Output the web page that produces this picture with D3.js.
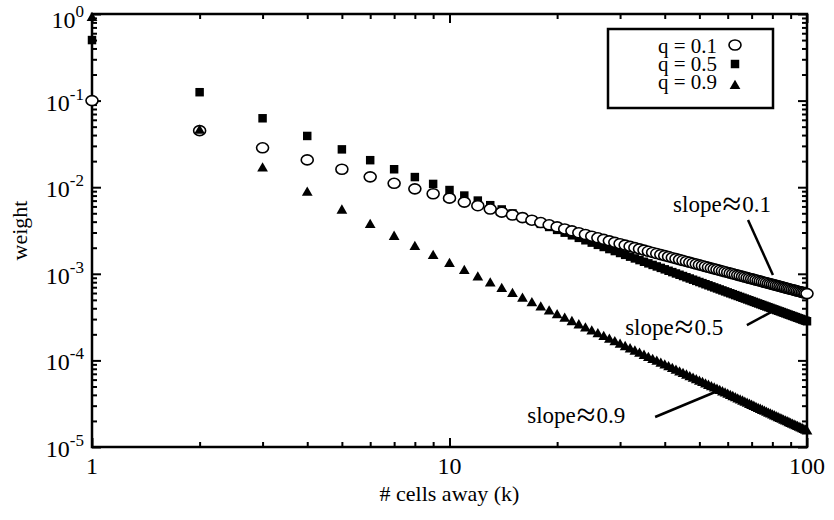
<!DOCTYPE html>
<html>
<head>
<meta charset="utf-8">
<script src="https://cdn.jsdelivr.net/npm/d3@7"></script>
<style>
  body { margin: 0; background: #fff; }
  text { font-family: "Liberation Serif", "Times New Roman", serif; fill: #000; }
</style>
</head>
<body>
<svg id="chart" width="834" height="520"></svg>
<script>
// k = 1..100 cells away
const cells = d3.range(1, 101);

const weightQ01 = [
  0.1, 0.045, 0.0285, 0.02066, 0.01612, 0.01316, 0.01109, 9.569e-3, 8.399e-3, 7.475e-3,
  6.728e-3, 6.111e-3, 5.594e-3, 5.154e-3, 4.776e-3, 4.448e-3, 4.160e-3, 3.906e-3, 3.680e-3, 3.478e-3,
  3.295e-3, 3.131e-3, 2.981e-3, 2.844e-3, 2.719e-3, 2.604e-3, 2.498e-3, 2.400e-3, 2.309e-3, 2.224e-3,
  2.145e-3, 2.072e-3, 2.003e-3, 1.938e-3, 1.877e-3, 1.820e-3, 1.765e-3, 1.714e-3, 1.666e-3, 1.620e-3,
  1.577e-3, 1.535e-3, 1.496e-3, 1.459e-3, 1.423e-3, 1.389e-3, 1.357e-3, 1.325e-3, 1.296e-3, 1.267e-3,
  1.240e-3, 1.214e-3, 1.189e-3, 1.164e-3, 1.141e-3, 1.119e-3, 1.097e-3, 1.076e-3, 1.056e-3, 1.037e-3,
  1.018e-3, 1.000e-3, 9.824e-4, 9.656e-4, 9.492e-4, 9.334e-4, 9.181e-4, 9.032e-4, 8.888e-4, 8.749e-4,
  8.613e-4, 8.481e-4, 8.354e-4, 8.229e-4, 8.109e-4, 7.991e-4, 7.877e-4, 7.766e-4, 7.658e-4, 7.553e-4,
  7.450e-4, 7.350e-4, 7.253e-4, 7.158e-4, 7.065e-4, 6.975e-4, 6.887e-4, 6.800e-4, 6.716e-4, 6.634e-4,
  6.554e-4, 6.476e-4, 6.399e-4, 6.324e-4, 6.251e-4, 6.179e-4, 6.109e-4, 6.041e-4, 5.974e-4, 5.908e-4
];

const weightQ05 = [
  0.5, 0.125, 0.0625, 0.03906, 0.02734, 0.02051, 0.01611, 0.01309, 0.01091, 9.274e-3,
  8.009e-3, 7.008e-3, 6.199e-3, 5.535e-3, 4.982e-3, 4.515e-3, 4.116e-3, 3.773e-3, 3.475e-3, 3.215e-3,
  2.985e-3, 2.782e-3, 2.600e-3, 2.438e-3, 2.291e-3, 2.159e-3, 2.039e-3, 1.930e-3, 1.830e-3, 1.739e-3,
  1.655e-3, 1.577e-3, 1.505e-3, 1.439e-3, 1.377e-3, 1.320e-3, 1.266e-3, 1.216e-3, 1.170e-3, 1.126e-3,
  1.084e-3, 1.046e-3, 1.009e-3, 9.748e-4, 9.423e-4, 9.116e-4, 8.825e-4, 8.549e-4, 8.287e-4, 8.039e-4,
  7.802e-4, 7.577e-4, 7.363e-4, 7.158e-4, 6.963e-4, 6.777e-4, 6.598e-4, 6.428e-4, 6.264e-4, 6.108e-4,
  5.958e-4, 5.814e-4, 5.675e-4, 5.542e-4, 5.414e-4, 5.291e-4, 5.173e-4, 5.059e-4, 4.949e-4, 4.843e-4,
  4.740e-4, 4.641e-4, 4.546e-4, 4.454e-4, 4.365e-4, 4.279e-4, 4.195e-4, 4.115e-4, 4.037e-4, 3.961e-4,
  3.888e-4, 3.816e-4, 3.747e-4, 3.681e-4, 3.616e-4, 3.553e-4, 3.491e-4, 3.432e-4, 3.374e-4, 3.318e-4,
  3.263e-4, 3.210e-4, 3.158e-4, 3.108e-4, 3.059e-4, 3.011e-4, 2.964e-4, 2.919e-4, 2.875e-4, 2.832e-4
];

const weightQ09 = [
  0.9, 0.045, 0.0165, 8.663e-3, 5.371e-3, 3.670e-3, 2.674e-3, 2.039e-3, 1.608e-3, 1.303e-3,
  1.078e-3, 9.072e-4, 7.746e-4, 6.695e-4, 5.847e-4, 5.152e-4, 4.576e-4, 4.093e-4, 3.684e-4, 3.334e-4,
  3.032e-4, 2.771e-4, 2.542e-4, 2.340e-4, 2.163e-4, 2.005e-4, 1.863e-4, 1.737e-4, 1.623e-4, 1.520e-4,
  1.427e-4, 1.343e-4, 1.265e-4, 1.195e-4, 1.130e-4, 1.070e-4, 1.015e-4, 9.644e-5, 9.175e-5, 8.739e-5,
  8.334e-5, 7.957e-5, 7.605e-5, 7.277e-5, 6.970e-5, 6.682e-5, 6.412e-5, 6.158e-5, 5.919e-5, 5.694e-5,
  5.482e-5, 5.282e-5, 5.092e-5, 4.913e-5, 4.744e-5, 4.583e-5, 4.430e-5, 4.285e-5, 4.147e-5, 4.015e-5,
  3.890e-5, 3.771e-5, 3.657e-5, 3.549e-5, 3.445e-5, 3.346e-5, 3.251e-5, 3.160e-5, 3.073e-5, 2.990e-5,
  2.910e-5, 2.833e-5, 2.759e-5, 2.689e-5, 2.620e-5, 2.555e-5, 2.492e-5, 2.431e-5, 2.373e-5, 2.316e-5,
  2.262e-5, 2.210e-5, 2.159e-5, 2.110e-5, 2.063e-5, 2.017e-5, 1.973e-5, 1.931e-5, 1.890e-5, 1.850e-5,
  1.811e-5, 1.774e-5, 1.737e-5, 1.702e-5, 1.668e-5, 1.635e-5, 1.603e-5, 1.572e-5, 1.542e-5, 1.513e-5
];

const seriesLabels = ["q = 0.1", "q = 0.5", "q = 0.9"];
const xTickLabels = ["1", "10", "100"];
const yTickExponents = ["0", "-1", "-2", "-3", "-4", "-5"];
const slopeLabels = ["slope\u22480.1", "slope\u22480.5", "slope\u22480.9"];

var svg = d3.select("#chart"),
  margin = { top: 14, right: 27, bottom: 73, left: 92 },
  width = +svg.attr("width") - margin.left - margin.right,
  height = +svg.attr("height") - margin.top - margin.bottom;

var x = d3.scaleLog().domain([1, 100]).range([0, width]);
var y = d3.scaleLog().domain([1e-5, 1]).range([height, 0]);

var g = svg
  .append("g")
  .attr("transform", "translate(" + margin.left + "," + margin.top + ")");

// ticks: powers of ten are major, the rest minor
const isPow10 = v => Math.abs(Math.log10(v) - Math.round(Math.log10(v))) < 1e-9;
const xMajor = x.ticks().filter(isPow10), xMinor = x.ticks().filter(v => !isPow10(v));
const yMajor = y.ticks().filter(isPow10), yMinor = y.ticks().filter(v => !isPow10(v));

function tickAxis(axis, values, size, transform) {
  var a = g.append("g")
    .attr("transform", transform || null)
    .call(axis.tickValues(values).tickSize(-size).tickFormat(""));
  a.select(".domain").remove();
  a.selectAll(".tick line").attr("stroke", "#000").attr("stroke-width", 2);
}
tickAxis(d3.axisLeft(y), yMinor, 5);
tickAxis(d3.axisLeft(y), yMajor, 9);
tickAxis(d3.axisRight(y), yMinor, 5, "translate(" + width + ",0)");
tickAxis(d3.axisRight(y), yMajor, 9, "translate(" + width + ",0)");
tickAxis(d3.axisBottom(x), xMinor, 5, "translate(0," + height + ")");
tickAxis(d3.axisBottom(x), xMajor, 9, "translate(0," + height + ")");
tickAxis(d3.axisTop(x), xMinor, 5);
tickAxis(d3.axisTop(x), xMajor, 9);

g.append("rect")
  .attr("width", width)
  .attr("height", height)
  .attr("fill", "none")
  .attr("stroke", "#000")
  .attr("stroke-width", 2.5);

// y tick labels 10^n
var yl = g.selectAll(".ylab")
  .data(yTickExponents)
  .enter()
  .append("text")
  .attr("class", "ylab")
  .attr("text-anchor", "end")
  .attr("x", -8)
  .attr("y", d => Math.max(y(Math.pow(10, +d)) + 10, 14))
  .style("font-size", "24px");
yl.append("tspan").text("10");
yl.append("tspan").attr("dy", -11).style("font-size", "17px").text(d => d);

g.selectAll(".xlab")
  .data(xTickLabels)
  .enter()
  .append("text")
  .attr("class", "xlab")
  .attr("text-anchor", "middle")
  .attr("x", d => x(+d))
  .attr("y", height + 27)
  .style("font-size", "24px")
  .text(d => d);

svg.append("text")
  .attr("text-anchor", "middle")
  .attr("x", margin.left + width / 2)
  .attr("y", 501)
  .style("font-size", "22px")
  .text("# cells away (k)");

svg.append("text")
  .attr("text-anchor", "middle")
  .attr("transform", "translate(27," + (margin.top + height / 2) + ") rotate(-90)")
  .style("font-size", "22px")
  .text("weight");

// markers
function drawMarker(sel, shape) {
  if (shape === "circle") {
    sel.append("ellipse").attr("rx", 6).attr("ry", 5)
      .attr("fill", "#fff").attr("stroke", "#000").attr("stroke-width", 1.6);
  } else if (shape === "square") {
    sel.append("path").attr("d", d3.symbol(d3.symbolSquare, 72)()).attr("fill", "#000");
  } else {
    sel.append("path").attr("d", d3.symbol(d3.symbolTriangle, 50)()).attr("fill", "#000");
  }
}

const seriesList = [
  { label: seriesLabels[0], values: weightQ01, shape: "circle" },
  { label: seriesLabels[1], values: weightQ05, shape: "square" },
  { label: seriesLabels[2], values: weightQ09, shape: "triangle" }
];

[1, 0, 2].forEach(i => {
  var s = seriesList[i];
  g.append("g")
    .selectAll("g")
    .data(s.values)
    .enter()
    .append("g")
    .attr("transform", (d, j) => "translate(" + x(cells[j]) + "," + y(d) + ")")
    .each(function() { drawMarker(d3.select(this), s.shape); });
});

// legend
var legend = svg.append("g").attr("transform", "translate(608,29)");
legend.append("rect")
  .attr("width", 165)
  .attr("height", 79)
  .attr("fill", "#fff")
  .attr("stroke", "#000")
  .attr("stroke-width", 2.5);
const legendMarkerY = [16, 35, 57];
seriesList.forEach((s, i) => {
  legend.append("text")
    .attr("text-anchor", "end")
    .attr("x", 109)
    .attr("y", 24 + i * 18)
    .style("font-size", "21px")
    .text(s.label);
  var m = legend.append("g").attr("transform", "translate(127," + legendMarkerY[i] + ")");
  drawMarker(m, s.shape);
});

// slope annotations, anchored in data units
const notes = [
  { text: slopeLabels[0], tk: 42.2, tw: 5.17e-3, k1: 68.4, w1: 4.18e-3, k2: 80.3, w2: 9.7e-4 },
  { text: slopeLabels[1], tk: 31.0, tw: 1.96e-4, k1: 67.9, w1: 2.56e-4, k2: 81.4, w2: 3.82e-4 },
  { text: slopeLabels[2], tk: 16.5, tw: 1.89e-5, k1: 37.6, w1: 2.22e-5, k2: 57.1, w2: 4.55e-5 }
];
notes.forEach(n => {
  g.append("line")
    .attr("x1", x(n.k1)).attr("y1", y(n.w1))
    .attr("x2", x(n.k2)).attr("y2", y(n.w2))
    .attr("stroke", "#000")
    .attr("stroke-width", 2.5);
  var t = g.append("text")
    .attr("x", x(n.tk))
    .attr("y", y(n.tw))
    .style("font-size", "23px");
  var parts = n.text.split("\u2248");
  t.append("tspan").text(parts[0]);
  t.append("tspan").attr("dx", 1).style("font-size", "34px").attr("dy", 3).text("\u2248");
  t.append("tspan").attr("dx", 1).attr("dy", -3).text(parts[1]);
});
</script>
</body>
</html>
